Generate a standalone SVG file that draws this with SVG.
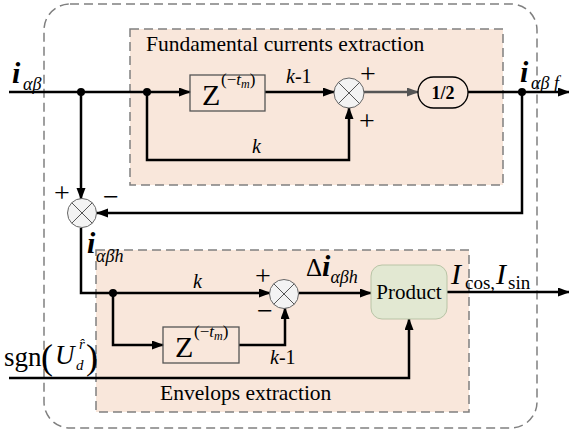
<svg xmlns="http://www.w3.org/2000/svg" width="569" height="436" viewBox="0 0 569 436">
<defs>
<marker id="ah" markerUnits="userSpaceOnUse" markerWidth="12" markerHeight="10" refX="11" refY="4.5" orient="auto"><path d="M0,0 L12,4.5 L0,9 z" fill="#000"/></marker>
<marker id="ahg" markerUnits="userSpaceOnUse" markerWidth="12" markerHeight="10" refX="11" refY="4.5" orient="auto"><path d="M0,0 L12,4.5 L0,9 z" fill="#555"/></marker>
</defs>
<style>
.t{font-family:"Liberation Serif","Times New Roman",serif;fill:#000}
.it{font-style:italic}
.bi{font-style:italic;font-weight:bold}
.dash{fill:none;stroke:#808080;stroke-width:1.5;stroke-dasharray:9 5}
.pink{fill:#f9e7db;stroke:#808080;stroke-width:1.5;stroke-dasharray:9 5}
.w{fill:none;stroke:#000;stroke-width:2.5;marker-end:url(#ah)}
.wn{fill:none;stroke:#000;stroke-width:2.5}
.box{fill:none;stroke:#555;stroke-width:1.3}
.sum{fill:#f3f3f3;stroke:#666;stroke-width:1}
.x{stroke:#555;stroke-width:1}
.dot{fill:#000}
</style>
<rect class="dash" x="44" y="4" width="493" height="424" rx="26"/>
<g id="fundamental">
<rect class="pink" x="130" y="29" width="373" height="156"/>
<text class="t" x="146" y="51" font-size="21.5">Fundamental currents extraction</text>
</g>
<g id="envelops">
<rect class="pink" x="96" y="250" width="373" height="162"/>
<text class="t" x="160" y="400" font-size="21.5">Envelops extraction</text>
</g>
<g id="connectors">
<path class="w" d="M9,92 H190"/>
<path class="w" d="M265,92 H334"/>
<path class="w" d="M147,92 V160 H349 V108"/>
<path d="M364,92 H418" fill="none" stroke="#555" stroke-width="2.5" marker-end="url(#ahg)"/>
<path class="w" d="M468,92 H569"/>
<path class="w" d="M522,92 V213 H97"/>
<path class="w" d="M81,92 V199"/>
<path class="w" d="M81,228 V293 H270"/>
<path class="w" d="M113,293 V345 H163"/>
<path class="w" d="M239,345 H285 V308"/>
<path class="w" d="M299,293 H371"/>
<path class="w" d="M447,292 H569"/>
<path class="w" d="M9,378 H409 V319"/>
<circle class="dot" cx="81" cy="92" r="4"/>
<circle class="dot" cx="147" cy="92" r="4"/>
<circle class="dot" cx="522" cy="92" r="4"/>
<circle class="dot" cx="113" cy="293" r="4"/>
</g>
<g id="z1">
<rect class="box" x="190" y="75" width="75" height="36"/>
<text class="t" x="202" y="105" font-size="30">Z</text>
<text class="t" x="221" y="85" font-size="17">(−<tspan class="it">t</tspan><tspan class="it" font-size="12" dy="3">m</tspan><tspan dy="-3">)</tspan></text>
</g>
<g id="sum1">
<circle class="sum" cx="349" cy="93" r="15"/>
<path class="x" d="M338.4,82.4 L359.6,103.6 M359.6,82.4 L338.4,103.6"/>
<text class="t" x="368" y="83" font-size="28" text-anchor="middle">+</text>
<text class="t" x="367" y="130" font-size="28" text-anchor="middle">+</text>
</g>
<g id="half">
<rect x="418" y="77" width="50" height="31" rx="15.5" fill="none" stroke="#000" stroke-width="1.3"/>
<text class="t" x="443" y="99" font-size="18" font-weight="bold" text-anchor="middle">1/2</text>
</g>
<g id="sum2">
<circle class="sum" cx="82" cy="213" r="14.5"/>
<path class="x" d="M71.7,202.7 L92.3,223.3 M92.3,202.7 L71.7,223.3"/>
<text class="t" x="62" y="202" font-size="28" text-anchor="middle">+</text>
<text class="t" x="111" y="206" font-size="28" text-anchor="middle">−</text>
</g>
<g id="sum3">
<circle class="sum" cx="284" cy="294" r="14.5"/>
<path class="x" d="M273.7,283.7 L294.3,304.3 M294.3,283.7 L273.7,304.3"/>
<text class="t" x="263" y="285" font-size="28" text-anchor="middle">+</text>
<text class="t" x="265" y="320" font-size="28" text-anchor="middle">−</text>
</g>
<g id="z2">
<rect class="box" x="163" y="327" width="76" height="36"/>
<text class="t" x="175" y="357" font-size="30">Z</text>
<text class="t" x="194" y="337" font-size="17">(−<tspan class="it">t</tspan><tspan class="it" font-size="12" dy="3">m</tspan><tspan dy="-3">)</tspan></text>
</g>
<g id="product">
<rect x="371" y="265" width="76" height="54" rx="11" fill="#e2e8d2" stroke="#b9c4a6" stroke-width="1"/>
<text class="t" x="409" y="299" font-size="21" text-anchor="middle">Product</text>
</g>
<g id="labels">
<text class="t bi" x="12" y="83" font-size="30">i</text>
<text class="t it" x="23" y="90" font-size="18">αβ</text>
<text class="t bi" x="520" y="82" font-size="30">i</text>
<text class="t it" x="531" y="89" font-size="18">αβ f</text>
<text class="t" x="286" y="83" font-size="20"><tspan class="it">k</tspan>-1</text>
<text class="t it" x="252" y="153" font-size="20">k</text>
<text class="t bi" x="87" y="253" font-size="30">i</text>
<text class="t it" x="96" y="262" font-size="18">αβh</text>
<text class="t it" x="193" y="288" font-size="20">k</text>
<text class="t" x="270" y="364" font-size="20"><tspan class="it">k</tspan>-1</text>
<text class="t" x="306" y="276" font-size="25">Δ<tspan class="bi" font-size="30">i</tspan><tspan class="it" font-size="18" dy="7">αβh</tspan></text>
<text class="t it" x="451" y="284" font-size="30">I</text>
<text class="t" x="465" y="289" font-size="19">cos,</text>
<text class="t it" x="496" y="284" font-size="30">I</text>
<text class="t" x="508" y="289" font-size="19">sin</text>
<text class="t" x="4" y="366" font-size="27">sgn</text>
<text class="t" x="41" y="369" font-size="36">(</text>
<text class="t it" x="55" y="364" font-size="27">U</text>
<text class="t it" x="76" y="370" font-size="15">d</text>
<text class="t it" x="79" y="349" font-size="15">r̂</text>
<text class="t" x="86" y="369" font-size="36">)</text>
</g>
</svg>
